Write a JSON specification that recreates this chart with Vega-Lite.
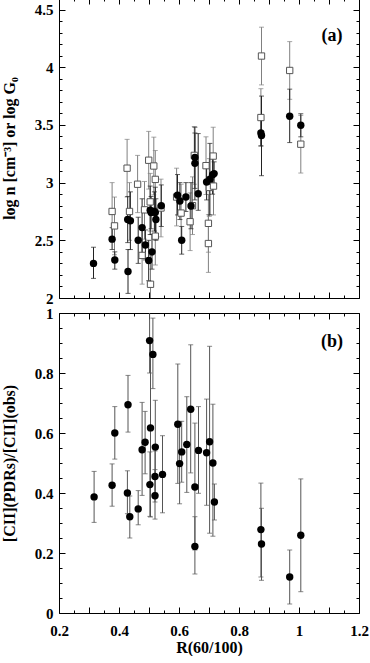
{
  "$schema": "https://vega.github.io/schema/vega-lite/v6.json",
  "background": "white",
  "padding": {"left": 0, "top": -3, "right": 0, "bottom": 0},
  "spacing": 15,
  "bounds": "flush",
  "config": {
    "font": "Liberation Serif",
    "view": {"stroke": "black", "strokeWidth": 1},
    "axis": {
      "domain": false, "grid": false, "tickColor": "black", "tickWidth": 1, "tickSize": -6,
      "labelFont": "Liberation Serif", "labelFontWeight": "bold", "labelFontSize": 15, "labelColor": "black",
      "titleFont": "Liberation Serif", "titleFontWeight": "bold", "titleFontSize": 16, "titleColor": "black",
      "labelFlush": false, "labelOverlap": false
    }
  },
  "datasets": {
    "acirc": [
      {"x": 0.315, "y": 2.30, "lo": 2.17, "hi": 2.44},
      {"x": 0.377, "y": 2.51, "lo": 2.42, "hi": 2.61},
      {"x": 0.386, "y": 2.33, "lo": 2.25, "hi": 2.40},
      {"x": 0.429, "y": 2.68, "lo": 2.48, "hi": 2.88},
      {"x": 0.438, "y": 2.67, "lo": 2.42, "hi": 2.92},
      {"x": 0.430, "y": 2.23, "lo": 2.04, "hi": 2.42},
      {"x": 0.464, "y": 2.50, "lo": 2.30, "hi": 2.70},
      {"x": 0.477, "y": 2.61, "lo": 2.36, "hi": 2.86},
      {"x": 0.488, "y": 2.46, "lo": 2.33, "hi": 2.59},
      {"x": 0.499, "y": 2.325, "lo": 2.15, "hi": 2.50},
      {"x": 0.510, "y": 2.40, "lo": 2.25, "hi": 2.55},
      {"x": 0.504, "y": 2.76, "lo": 2.55, "hi": 2.97},
      {"x": 0.507, "y": 2.74, "lo": 2.60, "hi": 2.88},
      {"x": 0.518, "y": 2.75, "lo": 2.58, "hi": 2.92},
      {"x": 0.521, "y": 2.74, "lo": 2.52, "hi": 2.96},
      {"x": 0.523, "y": 2.68, "lo": 2.50, "hi": 2.86},
      {"x": 0.541, "y": 2.80, "lo": 2.62, "hi": 2.98},
      {"x": 0.595, "y": 2.89, "lo": 2.72, "hi": 3.07},
      {"x": 0.603, "y": 2.84, "lo": 2.68, "hi": 3.00},
      {"x": 0.609, "y": 2.50, "lo": 2.38, "hi": 2.62},
      {"x": 0.623, "y": 2.875, "lo": 2.75, "hi": 3.00},
      {"x": 0.640, "y": 2.797, "lo": 2.60, "hi": 3.00},
      {"x": 0.653, "y": 3.217, "lo": 2.95, "hi": 3.48},
      {"x": 0.653, "y": 3.167, "lo": 2.85, "hi": 3.43},
      {"x": 0.664, "y": 2.903, "lo": 2.76, "hi": 3.425},
      {"x": 0.692, "y": 3.006, "lo": 2.85, "hi": 3.16},
      {"x": 0.703, "y": 3.03, "lo": 2.72, "hi": 3.34},
      {"x": 0.712, "y": 3.069, "lo": 2.90, "hi": 3.24},
      {"x": 0.717, "y": 3.078, "lo": 2.98, "hi": 3.18},
      {"x": 0.873, "y": 3.431, "lo": 3.32, "hi": 3.55},
      {"x": 0.875, "y": 3.408, "lo": 3.06, "hi": 3.75},
      {"x": 0.969, "y": 3.575, "lo": 3.347, "hi": 3.81},
      {"x": 1.006, "y": 3.497, "lo": 3.397, "hi": 3.597}
    ],
    "asq": [
      {"x": 0.377, "y": 2.75, "lo": 2.50, "hi": 3.00},
      {"x": 0.385, "y": 2.625, "lo": 2.375, "hi": 2.875},
      {"x": 0.427, "y": 3.125, "lo": 2.875, "hi": 3.375},
      {"x": 0.435, "y": 2.75, "lo": 2.50, "hi": 3.00},
      {"x": 0.462, "y": 2.986, "lo": 2.74, "hi": 3.236},
      {"x": 0.477, "y": 2.369, "lo": 2.12, "hi": 2.62},
      {"x": 0.485, "y": 2.764, "lo": 2.51, "hi": 3.01},
      {"x": 0.499, "y": 3.194, "lo": 2.944, "hi": 3.444},
      {"x": 0.504, "y": 2.833, "lo": 2.58, "hi": 3.08},
      {"x": 0.505, "y": 2.119, "lo": 1.87, "hi": 2.37},
      {"x": 0.516, "y": 3.144, "lo": 2.894, "hi": 3.394},
      {"x": 0.521, "y": 3.028, "lo": 2.778, "hi": 3.278},
      {"x": 0.521, "y": 2.536, "lo": 2.286, "hi": 2.786},
      {"x": 0.540, "y": 2.78, "lo": 2.53, "hi": 3.03},
      {"x": 0.592, "y": 2.875, "lo": 2.625, "hi": 3.125},
      {"x": 0.607, "y": 2.736, "lo": 2.486, "hi": 2.986},
      {"x": 0.637, "y": 2.661, "lo": 2.411, "hi": 2.911},
      {"x": 0.645, "y": 2.80, "lo": 2.55, "hi": 3.05},
      {"x": 0.651, "y": 3.236, "lo": 2.986, "hi": 3.486},
      {"x": 0.690, "y": 3.147, "lo": 2.897, "hi": 3.397},
      {"x": 0.701, "y": 2.958, "lo": 2.708, "hi": 3.208},
      {"x": 0.715, "y": 2.97, "lo": 2.72, "hi": 3.22},
      {"x": 0.698, "y": 2.647, "lo": 2.397, "hi": 2.897},
      {"x": 0.698, "y": 2.472, "lo": 2.222, "hi": 2.722},
      {"x": 0.714, "y": 3.23, "lo": 2.98, "hi": 3.48},
      {"x": 0.873, "y": 3.564, "lo": 3.314, "hi": 3.814},
      {"x": 0.875, "y": 4.097, "lo": 3.847, "hi": 4.347},
      {"x": 0.969, "y": 3.972, "lo": 3.722, "hi": 4.222},
      {"x": 1.006, "y": 3.333, "lo": 3.083, "hi": 3.583}
    ],
    "bcirc": [
      {"x": 0.317, "y": 0.387, "lo": 0.302, "hi": 0.472},
      {"x": 0.377, "y": 0.426, "lo": 0.356, "hi": 0.497},
      {"x": 0.386, "y": 0.600, "lo": 0.513, "hi": 0.688},
      {"x": 0.430, "y": 0.694, "lo": 0.603, "hi": 0.792},
      {"x": 0.428, "y": 0.400, "lo": 0.331, "hi": 0.474},
      {"x": 0.436, "y": 0.321, "lo": 0.250, "hi": 0.390},
      {"x": 0.464, "y": 0.347, "lo": 0.294, "hi": 0.408},
      {"x": 0.477, "y": 0.544, "lo": 0.392, "hi": 0.702},
      {"x": 0.487, "y": 0.569, "lo": 0.464, "hi": 0.672},
      {"x": 0.502, "y": 0.908, "lo": 0.800, "hi": 1.02},
      {"x": 0.513, "y": 0.862, "lo": 0.748, "hi": 0.983},
      {"x": 0.505, "y": 0.617, "lo": 0.320, "hi": 0.915},
      {"x": 0.503, "y": 0.428, "lo": 0.322, "hi": 0.537},
      {"x": 0.520, "y": 0.455, "lo": 0.370, "hi": 0.540},
      {"x": 0.521, "y": 0.553, "lo": 0.400, "hi": 0.709},
      {"x": 0.520, "y": 0.391, "lo": 0.313, "hi": 0.478},
      {"x": 0.545, "y": 0.462, "lo": 0.334, "hi": 0.591},
      {"x": 0.596, "y": 0.629, "lo": 0.432, "hi": 0.830},
      {"x": 0.602, "y": 0.498, "lo": 0.364, "hi": 0.638},
      {"x": 0.609, "y": 0.537, "lo": 0.436, "hi": 0.639},
      {"x": 0.626, "y": 0.562, "lo": 0.402, "hi": 0.721},
      {"x": 0.639, "y": 0.679, "lo": 0.467, "hi": 0.894},
      {"x": 0.653, "y": 0.420, "lo": 0.210, "hi": 0.633},
      {"x": 0.653, "y": 0.222, "lo": 0.130, "hi": 0.321},
      {"x": 0.665, "y": 0.542, "lo": 0.399, "hi": 0.688},
      {"x": 0.692, "y": 0.534, "lo": 0.359, "hi": 0.713},
      {"x": 0.702, "y": 0.571, "lo": 0.266, "hi": 0.889},
      {"x": 0.713, "y": 0.500, "lo": 0.256, "hi": 0.696},
      {"x": 0.718, "y": 0.370, "lo": 0.310, "hi": 0.430},
      {"x": 0.873, "y": 0.278, "lo": 0.120, "hi": 0.433},
      {"x": 0.875, "y": 0.230, "lo": 0.109, "hi": 0.349},
      {"x": 0.969, "y": 0.120, "lo": 0.030, "hi": 0.210},
      {"x": 1.006, "y": 0.259, "lo": 0.071, "hi": 0.447}
    ],
    "labels": [
      {"panel": "a", "x": 1.11, "y": 4.275, "t": "(a)"},
      {"panel": "b", "x": 1.11, "y": 0.902, "t": "(b)"}
    ]
  },
  "vconcat": [
    {
      "width": 300, "height": 300,
      "layer": [
        {
          "data": {"name": "asq"},
          "mark": {"type": "rule", "color": "#808080", "strokeWidth": 1, "clip": true},
          "encoding": {
            "x": {"field": "x", "type": "quantitative", "scale": {"domain": [0.2, 1.2]},
              "axis": {"orient": "bottom", "values": [0.2,0.3,0.4,0.5,0.6,0.7,0.8,0.9,1.0,1.1,1.2],
                "labels": false, "title": null}},
            "y": {"field": "lo", "type": "quantitative", "scale": {"domain": [2, 4.5]},
              "axis": {"orient": "left", "values": [2,2.5,3,3.5,4,4.5],
                "title": "log n [cm⁻³] or log G₀", "titlePadding": 17, "labelPadding": 12,
                "labelExpr": "format(datum.value, '~g')"}},
            "y2": {"field": "hi"}
          }
        },
        {
          "data": {"name": "asq"},
          "transform": [{"fold": ["lo", "hi"], "as": ["k", "v"]}],
          "mark": {"type": "tick", "orient": "horizontal", "color": "#808080", "size": 5, "thickness": 1, "clip": true},
          "encoding": {
            "x": {"field": "x", "type": "quantitative",
              "axis": {"orient": "bottom", "values": [0.25,0.35,0.45,0.55,0.65,0.75,0.85,0.95,1.05,1.15],
                "labels": false, "title": null, "tickSize": -3}},
            "y": {"field": "v", "type": "quantitative",
              "axis": {"orient": "left", "values": [2.1,2.2,2.3,2.4,2.6,2.7,2.8,2.9,3.1,3.2,3.3,3.4,3.6,3.7,3.8,3.9,4.1,4.2,4.3,4.4],
                "labels": false, "title": null, "tickSize": -3}}
          }
        },
        {
          "data": {"name": "acirc"},
          "mark": {"type": "rule", "color": "#222222", "strokeWidth": 1, "clip": true},
          "encoding": {
            "x": {"field": "x", "type": "quantitative",
              "axis": {"orient": "top", "values": [0.25,0.35,0.45,0.55,0.65,0.75,0.85,0.95,1.05,1.15],
                "labels": false, "title": null, "tickSize": -3}},
            "y": {"field": "lo", "type": "quantitative",
              "axis": {"orient": "right", "values": [2.1,2.2,2.3,2.4,2.6,2.7,2.8,2.9,3.1,3.2,3.3,3.4,3.6,3.7,3.8,3.9,4.1,4.2,4.3,4.4],
                "labels": false, "title": null, "tickSize": -3}},
            "y2": {"field": "hi"}
          }
        },
        {
          "data": {"name": "acirc"},
          "transform": [{"fold": ["lo", "hi"], "as": ["k", "v"]}],
          "mark": {"type": "tick", "orient": "horizontal", "color": "#222222", "size": 5, "thickness": 1, "clip": true},
          "encoding": {
            "x": {"field": "x", "type": "quantitative", "axis": null},
            "y": {"field": "v", "type": "quantitative", "axis": null}
          }
        },
        {
          "data": {"name": "asq"},
          "mark": {"type": "point", "shape": "square", "fill": "white", "stroke": "#555555", "strokeWidth": 1, "size": 40, "opacity": 1, "filled": true},
          "encoding": {
            "x": {"field": "x", "type": "quantitative", "axis": null},
            "y": {"field": "y", "type": "quantitative", "axis": null}
          }
        },
        {
          "data": {"name": "acirc"},
          "mark": {"type": "point", "shape": "circle", "filled": true, "color": "black", "size": 55, "opacity": 1},
          "encoding": {
            "x": {"field": "x", "type": "quantitative",
              "axis": {"orient": "top", "values": [0.2,0.3,0.4,0.5,0.6,0.7,0.8,0.9,1.0,1.1,1.2],
                "labels": false, "title": null}},
            "y": {"field": "y", "type": "quantitative",
              "axis": {"orient": "right", "values": [2,2.5,3,3.5,4,4.5],
                "labels": false, "title": null}}
          }
        },
        {
          "data": {"name": "labels"},
          "transform": [{"filter": "datum.panel === 'a'"}],
          "mark": {"type": "text", "font": "Liberation Serif", "fontWeight": "bold", "fontSize": 18, "color": "black"},
          "encoding": {
            "x": {"field": "x", "type": "quantitative", "axis": null},
            "y": {"field": "y", "type": "quantitative", "axis": null},
            "text": {"field": "t"}
          }
        }
      ],
      "resolve": {"axis": {"x": "independent", "y": "independent"}}
    },
    {
      "width": 300, "height": 300,
      "layer": [
        {
          "data": {"name": "bcirc"},
          "mark": {"type": "rule", "color": "#555555", "strokeWidth": 1, "clip": true},
          "encoding": {
            "x": {"field": "x", "type": "quantitative", "scale": {"domain": [0.2, 1.2]},
              "axis": {"orient": "bottom", "values": [0.2,0.3,0.4,0.5,0.6,0.7,0.8,0.9,1.0,1.1,1.2],
                "title": "R(60/100)", "titlePadding": 1, "labelPadding": 16,
                "labelExpr": "abs(datum.value*5 - round(datum.value*5)) < 1e-6 ? format(datum.value, '~g') : ''"}},
            "y": {"field": "lo", "type": "quantitative", "scale": {"domain": [0, 1]},
              "axis": {"orient": "left", "values": [0,0.2,0.4,0.6,0.8,1],
                "title": "[CII](PDRs)/[CII](obs)", "titlePadding": 17, "labelPadding": 12,
                "labelExpr": "format(datum.value, '~g')"}},
            "y2": {"field": "hi"}
          }
        },
        {
          "data": {"name": "bcirc"},
          "transform": [{"fold": ["lo", "hi"], "as": ["k", "v"]}],
          "mark": {"type": "tick", "orient": "horizontal", "color": "#555555", "size": 5, "thickness": 1, "clip": true},
          "encoding": {
            "x": {"field": "x", "type": "quantitative",
              "axis": {"orient": "bottom", "values": [0.25,0.35,0.45,0.55,0.65,0.75,0.85,0.95,1.05,1.15],
                "labels": false, "title": null, "tickSize": -3}},
            "y": {"field": "v", "type": "quantitative",
              "axis": {"orient": "left", "values": [0.05,0.1,0.15,0.25,0.3,0.35,0.45,0.5,0.55,0.65,0.7,0.75,0.85,0.9,0.95],
                "labels": false, "title": null, "tickSize": -3}}
          }
        },
        {
          "data": {"name": "bcirc"},
          "mark": {"type": "point", "shape": "circle", "filled": true, "color": "black", "size": 55, "opacity": 1},
          "encoding": {
            "x": {"field": "x", "type": "quantitative",
              "axis": {"orient": "top", "values": [0.2,0.3,0.4,0.5,0.6,0.7,0.8,0.9,1.0,1.1,1.2],
                "labels": false, "title": null}},
            "y": {"field": "y", "type": "quantitative",
              "axis": {"orient": "right", "values": [0,0.2,0.4,0.6,0.8,1],
                "labels": false, "title": null}}
          }
        },
        {
          "data": {"name": "labels"},
          "transform": [{"filter": "datum.panel === 'b'"}],
          "mark": {"type": "text", "font": "Liberation Serif", "fontWeight": "bold", "fontSize": 18, "color": "black"},
          "encoding": {
            "x": {"field": "x", "type": "quantitative",
              "axis": {"orient": "top", "values": [0.25,0.35,0.45,0.55,0.65,0.75,0.85,0.95,1.05,1.15],
                "labels": false, "title": null, "tickSize": -3}},
            "y": {"field": "y", "type": "quantitative",
              "axis": {"orient": "right", "values": [0.05,0.1,0.15,0.25,0.3,0.35,0.45,0.5,0.55,0.65,0.7,0.75,0.85,0.9,0.95],
                "labels": false, "title": null, "tickSize": -3}},
            "text": {"field": "t"}
          }
        }
      ],
      "resolve": {"axis": {"x": "independent", "y": "independent"}}
    }
  ]
}
